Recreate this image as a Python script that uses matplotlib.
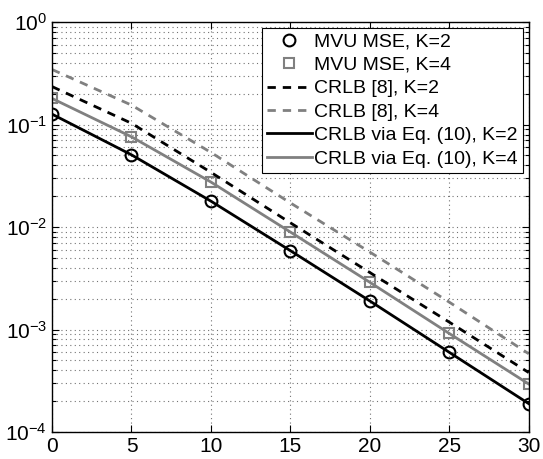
import matplotlib
matplotlib.use("Agg")
import matplotlib.pyplot as plt
from matplotlib.ticker import LogLocator, LogFormatterMathtext, NullFormatter

plt.rcParams['font.family'] = ['Liberation Sans', 'DejaVu Sans']
plt.rcParams['mathtext.fontset'] = 'custom'
plt.rcParams['mathtext.rm'] = 'Liberation Sans'
plt.rcParams['mathtext.it'] = 'Liberation Sans:italic'
plt.rcParams['mathtext.bf'] = 'Liberation Sans:bold'

# --- data ---
snr = [0, 5, 10, 15, 20, 25, 30]
mvu_k2 = [0.1265, 0.0507, 0.0179, 0.00588, 0.0019, 0.000599, 0.000189]
mvu_k4 = [0.18, 0.076, 0.0275, 0.00894, 0.00289, 0.000915, 0.000294]
crlb8_k2 = [0.235, 0.103, 0.0342, 0.0110, 0.0036, 0.00118, 0.00038]
crlb8_k4 = [0.345, 0.155, 0.0535, 0.0172, 0.0057, 0.00185, 0.00058]
crlb_eq10_k2 = [0.1265, 0.0507, 0.0179, 0.00588, 0.0019, 0.000599, 0.000189]
crlb_eq10_k4 = [0.18, 0.076, 0.0275, 0.00894, 0.00289, 0.000915, 0.000294]

gray = '#808080'
dash = (0, (3, 2.5))
dot = (0, (1, 3))

fig = plt.figure(figsize=(5.43, 4.59), dpi=100)
ax = fig.add_axes([0.0958, 0.0588, 0.878, 0.893])

ax.semilogy(snr, mvu_k2, 'o', color='k', mfc='none', ms=8.5, mew=1.5,
            label='MVU MSE, K=2')
ax.semilogy(snr, mvu_k4, 's', color=gray, mfc='none', ms=7, mew=1.5,
            label='MVU MSE, K=4')
ax.semilogy(snr, crlb8_k2, color='k', ls=dash, lw=2, label='CRLB [8], K=2')
ax.semilogy(snr, crlb8_k4, color=gray, ls=dash, lw=2, label='CRLB [8], K=4')
ax.semilogy(snr, crlb_eq10_k2, color='k', lw=2, label='CRLB via Eq. (10), K=2')
ax.semilogy(snr, crlb_eq10_k4, color=gray, lw=2, label='CRLB via Eq. (10), K=4')

ax.set_xlim(0, 30)
ax.set_ylim(1e-4, 1)
ax.set_xticks([0, 5, 10, 15, 20, 25, 30])
ax.yaxis.set_major_locator(LogLocator(base=10, numticks=10))
ax.yaxis.set_minor_locator(LogLocator(base=10, subs=range(2, 10), numticks=20))
ax.yaxis.set_major_formatter(LogFormatterMathtext())
ax.yaxis.set_minor_formatter(NullFormatter())

ax.grid(True, which='major', color='0.45', ls=dot, lw=0.8)
ax.grid(True, which='minor', axis='y', color='0.45', ls=dot, lw=0.8)
ax.tick_params(which='both', direction='in', top=True, right=True,
               labelsize=15, width=0.8)
ax.tick_params(which='major', length=5)
ax.tick_params(which='minor', length=3)
for s in ax.spines.values():
    s.set_linewidth(1.0)

leg = ax.legend(loc='upper right', fontsize=14, frameon=True, fancybox=False,
                edgecolor='k', framealpha=1, handlelength=2.3, handletextpad=0.15,
                borderpad=0.25, labelspacing=0.3, borderaxespad=0.3)
leg.get_frame().set_linewidth(0.8)

fig.savefig('out.png', dpi=100)
